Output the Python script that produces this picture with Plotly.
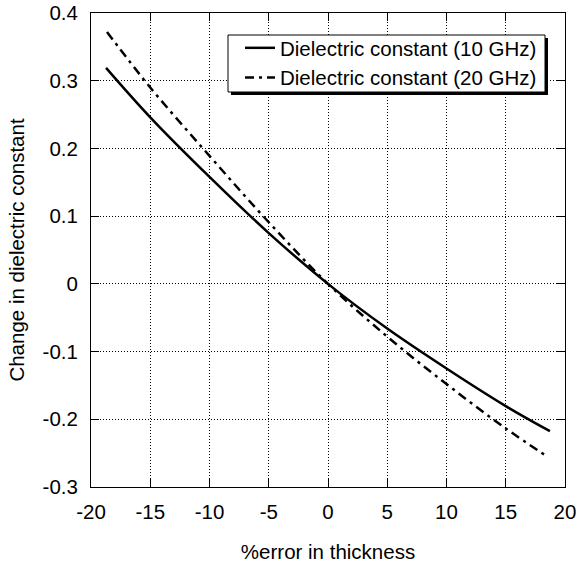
import plotly.graph_objects as go

x_solid = [-18.73, -15, -10, -5, 0, 5, 10, 15, 18.73]
y_solid = [0.319, 0.246, 0.158, 0.075, 0.0, -0.066, -0.125, -0.1805, -0.2175]

x_dd = [-18.65, -15, -10, -5, 0, 5, 10, 15, 18.5]
y_dd = [0.372, 0.290, 0.189, 0.091, 0.0, -0.078, -0.148, -0.2135, -0.255]

name_solid = "Dielectric constant (10 GHz)"
name_dd = "Dielectric constant (20 GHz)"

x_ticks = [-20, -15, -10, -5, 0, 5, 10, 15, 20]
y_ticks = [-0.3, -0.2, -0.1, 0, 0.1, 0.2, 0.3, 0.4]
y_ticklabels = ["-0.3", "-0.2", "-0.1", "0", "0.1", "0.2", "0.3", "0.4"]

font = dict(family="Liberation Sans, Arial, sans-serif", size=20.5, color="black")

fig = go.Figure()
fig.add_trace(go.Scatter(x=x_solid, y=y_solid, mode="lines", name=name_solid,
                         line=dict(color="black", width=2.5, shape="spline")))
fig.add_trace(go.Scatter(x=x_dd, y=y_dd, mode="lines", name=name_dd,
                         line=dict(color="black", width=2.5, shape="spline", dash="9px,5px,3px,5px")))

axis_common = dict(showgrid=True, gridcolor="black", griddash="1px,2px", gridwidth=1,
                   showline=True, linecolor="black", linewidth=1, mirror="ticks",
                   ticks="inside", ticklen=8, tickcolor="black", zeroline=False,
                   tickfont=font, automargin=False)

fig.update_xaxes(range=[-20, 20], tickvals=x_ticks, ticktext=[str(v) for v in x_ticks],
                 ticklabelstandoff=6,
                 title=dict(text="%error in thickness", font=font, standoff=23), **axis_common)
fig.update_yaxes(range=[-0.3, 0.4], tickvals=y_ticks, ticktext=y_ticklabels,
                 ticklabelstandoff=8,
                 title=dict(text="Change in dielectric constant", font=font, standoff=12), **axis_common)

def px_x(p):
    return (p - 91) / 474

def px_y(p):
    return (487 - p) / 474

# legend frame and drop shadow
BL, BT, BR, BB = 228, 35, 545, 92
fig.add_shape(type="rect", xref="paper", yref="paper",
              x0=px_x(BL + 3), x1=px_x(BR + 3), y0=px_y(BB + 3), y1=px_y(BT + 3),
              fillcolor="black", line=dict(width=0), layer="above")
fig.add_shape(type="rect", xref="paper", yref="paper",
              x0=px_x(BL), x1=px_x(BR), y0=px_y(BB), y1=px_y(BT),
              fillcolor="white", line=dict(color="black", width=1), layer="above")

fig.update_layout(
    width=578, height=565,
    margin=dict(l=91, r=13, t=13, b=78, autoexpand=False),
    plot_bgcolor="white", paper_bgcolor="white",
    font=font,
    showlegend=True,
    legend=dict(x=px_x(240), y=px_y(28), xanchor="left", yanchor="top",
                bgcolor="rgba(0,0,0,0)", borderwidth=0,
                font=font, tracegroupgap=0, itemwidth=30),
)

fig.write_html("out.html")
